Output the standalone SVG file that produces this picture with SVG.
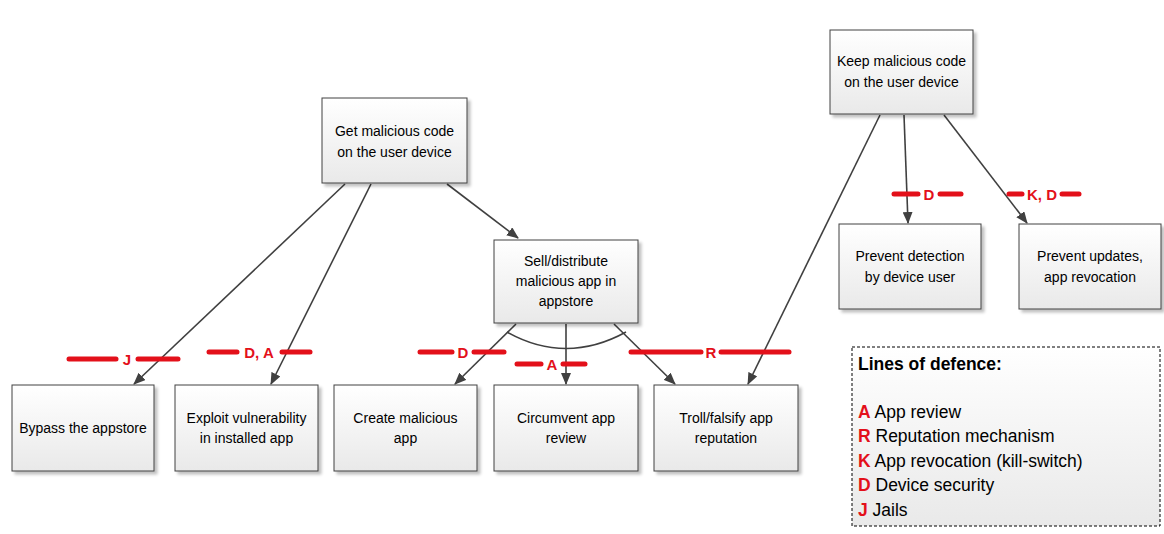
<svg xmlns="http://www.w3.org/2000/svg" width="1164" height="534" viewBox="0 0 1164 534">
<defs>
<linearGradient id="g" x1="0" y1="0" x2="0" y2="1">
<stop offset="0" stop-color="#ffffff"/>
<stop offset="1" stop-color="#e9e9e9"/>
</linearGradient>
<marker id="ah" viewBox="0 0 12 10" refX="11" refY="5" markerWidth="12" markerHeight="10" markerUnits="userSpaceOnUse" orient="auto">
<path d="M0,0 L12,5 L0,10 z" fill="#404040"/>
</marker>
<filter id="sh" x="-10%" y="-10%" width="130%" height="130%">
<feGaussianBlur in="SourceAlpha" stdDeviation="1.5"/>
<feOffset dx="3" dy="3" result="b"/>
<feComponentTransfer><feFuncA type="linear" slope="0.25"/></feComponentTransfer>
<feMerge><feMergeNode/><feMergeNode in="SourceGraphic"/></feMerge>
</filter>
</defs>
<style>
.box{fill:url(#g);stroke:#404040;stroke-width:1;filter:url(#sh)}
.t{font-family:"Liberation Sans",Arial,sans-serif;font-size:14px;fill:#000;text-anchor:middle}
.c{stroke:#404040;stroke-width:1.6;fill:none}
.ca{stroke:#404040;stroke-width:1.6;fill:none;marker-end:url(#ah)}
.r{stroke:#e3101a;stroke-width:5;stroke-linecap:round}
.rl{font-family:"Liberation Sans",Arial,sans-serif;font-size:15px;font-weight:bold;fill:#e3101a;text-anchor:middle}
.lg{font-family:"Liberation Sans",Arial,sans-serif;font-size:17.5px;fill:#000}
.lb{font-weight:bold;fill:#e3101a}
</style>
<rect width="1164" height="534" fill="#ffffff"/>

<g id="connectors">
<line class="ca" x1="345" y1="184" x2="134" y2="384"/>
<line class="ca" x1="371" y1="184" x2="271" y2="384"/>
<line class="ca" x1="447" y1="184" x2="518" y2="238"/>
<line class="ca" x1="516" y1="324" x2="455" y2="384"/>
<line class="ca" x1="566" y1="324" x2="566" y2="384"/>
<line class="ca" x1="614" y1="324" x2="675" y2="384"/>
<path class="c" d="M507,332 Q566,365 626,332"/>
<line class="ca" x1="880" y1="115" x2="748" y2="384"/>
<line class="ca" x1="904" y1="115" x2="908" y2="223"/>
<line class="ca" x1="944" y1="115" x2="1027" y2="223"/>
</g>

<g id="defence-lines">
<line class="r" x1="69" y1="359" x2="116" y2="359"/><line class="r" x1="138" y1="359" x2="178" y2="359"/>
<text class="rl" x="127" y="365">J</text>
<line class="r" x1="209" y1="352" x2="237" y2="352"/><line class="r" x1="282" y1="352" x2="310" y2="352"/>
<text class="rl" x="259" y="358">D, A</text>
<line class="r" x1="420" y1="352" x2="452" y2="352"/><line class="r" x1="474" y1="352" x2="504" y2="352"/>
<text class="rl" x="463" y="358">D</text>
<line class="r" x1="517" y1="364" x2="541" y2="364"/><line class="r" x1="563" y1="364" x2="585" y2="364"/>
<text class="rl" x="552" y="370">A</text>
<line class="r" x1="631" y1="352" x2="701" y2="352"/><line class="r" x1="721" y1="352" x2="789" y2="352"/>
<text class="rl" x="711" y="358">R</text>
<line class="r" x1="894" y1="194" x2="918" y2="194"/><line class="r" x1="940" y1="194" x2="961" y2="194"/>
<text class="rl" x="929" y="200">D</text>
<line class="r" x1="1009" y1="194" x2="1022" y2="194"/><line class="r" x1="1062" y1="194" x2="1079" y2="194"/>
<text class="rl" x="1042" y="200">K, D</text>
</g>

<g id="get">
<rect class="box" x="322" y="98" width="145" height="85"/>
<text class="t" x="394.5" y="136">Get malicious code</text>
<text class="t" x="394.5" y="157">on the user device</text>
</g>
<g id="sell">
<rect class="box" x="494" y="240" width="144" height="83"/>
<text class="t" x="566" y="266">Sell/distribute</text>
<text class="t" x="566" y="286">malicious app in</text>
<text class="t" x="566" y="306">appstore</text>
</g>
<g id="keep">
<rect class="box" x="830" y="30" width="143" height="84"/>
<text class="t" x="901.5" y="66">Keep malicious code</text>
<text class="t" x="901.5" y="87">on the user device</text>
</g>
<g id="detect">
<rect class="box" x="839" y="224" width="142" height="85"/>
<text class="t" x="910" y="261">Prevent detection</text>
<text class="t" x="910" y="282">by device user</text>
</g>
<g id="updates">
<rect class="box" x="1019" y="224" width="142" height="85"/>
<text class="t" x="1090" y="261">Prevent updates,</text>
<text class="t" x="1090" y="282">app revocation</text>
</g>
<g id="bypass">
<rect class="box" x="12" y="385" width="142" height="86"/>
<text class="t" x="83" y="433">Bypass the appstore</text>
</g>
<g id="exploit">
<rect class="box" x="175" y="385" width="143" height="86"/>
<text class="t" x="246.5" y="423">Exploit vulnerability</text>
<text class="t" x="246.5" y="443">in installed app</text>
</g>
<g id="create">
<rect class="box" x="334" y="385" width="143" height="86"/>
<text class="t" x="405.5" y="423">Create malicious</text>
<text class="t" x="405.5" y="443">app</text>
</g>
<g id="circumvent">
<rect class="box" x="494" y="385" width="144" height="86"/>
<text class="t" x="566" y="423">Circumvent app</text>
<text class="t" x="566" y="443">review</text>
</g>
<g id="troll">
<rect class="box" x="654" y="385" width="144" height="86"/>
<text class="t" x="726" y="423">Troll/falsify app</text>
<text class="t" x="726" y="443">reputation</text>
</g>

<g id="legend">
<rect x="852" y="347" width="308" height="179" fill="url(#g)" stroke="#000" stroke-width="1" stroke-dasharray="3,2"/>
<text class="lg" x="858" y="370" font-weight="bold" font-size="16.5px">Lines of defence:</text>
<text class="lg" x="858" y="418"><tspan class="lb">A</tspan> App review</text>
<text class="lg" x="858" y="442"><tspan class="lb">R</tspan> Reputation mechanism</text>
<text class="lg" x="858" y="467"><tspan class="lb">K</tspan> App revocation (kill-switch)</text>
<text class="lg" x="858" y="491"><tspan class="lb">D</tspan> Device security</text>
<text class="lg" x="858" y="516"><tspan class="lb">J</tspan> Jails</text>
</g>
</svg>
